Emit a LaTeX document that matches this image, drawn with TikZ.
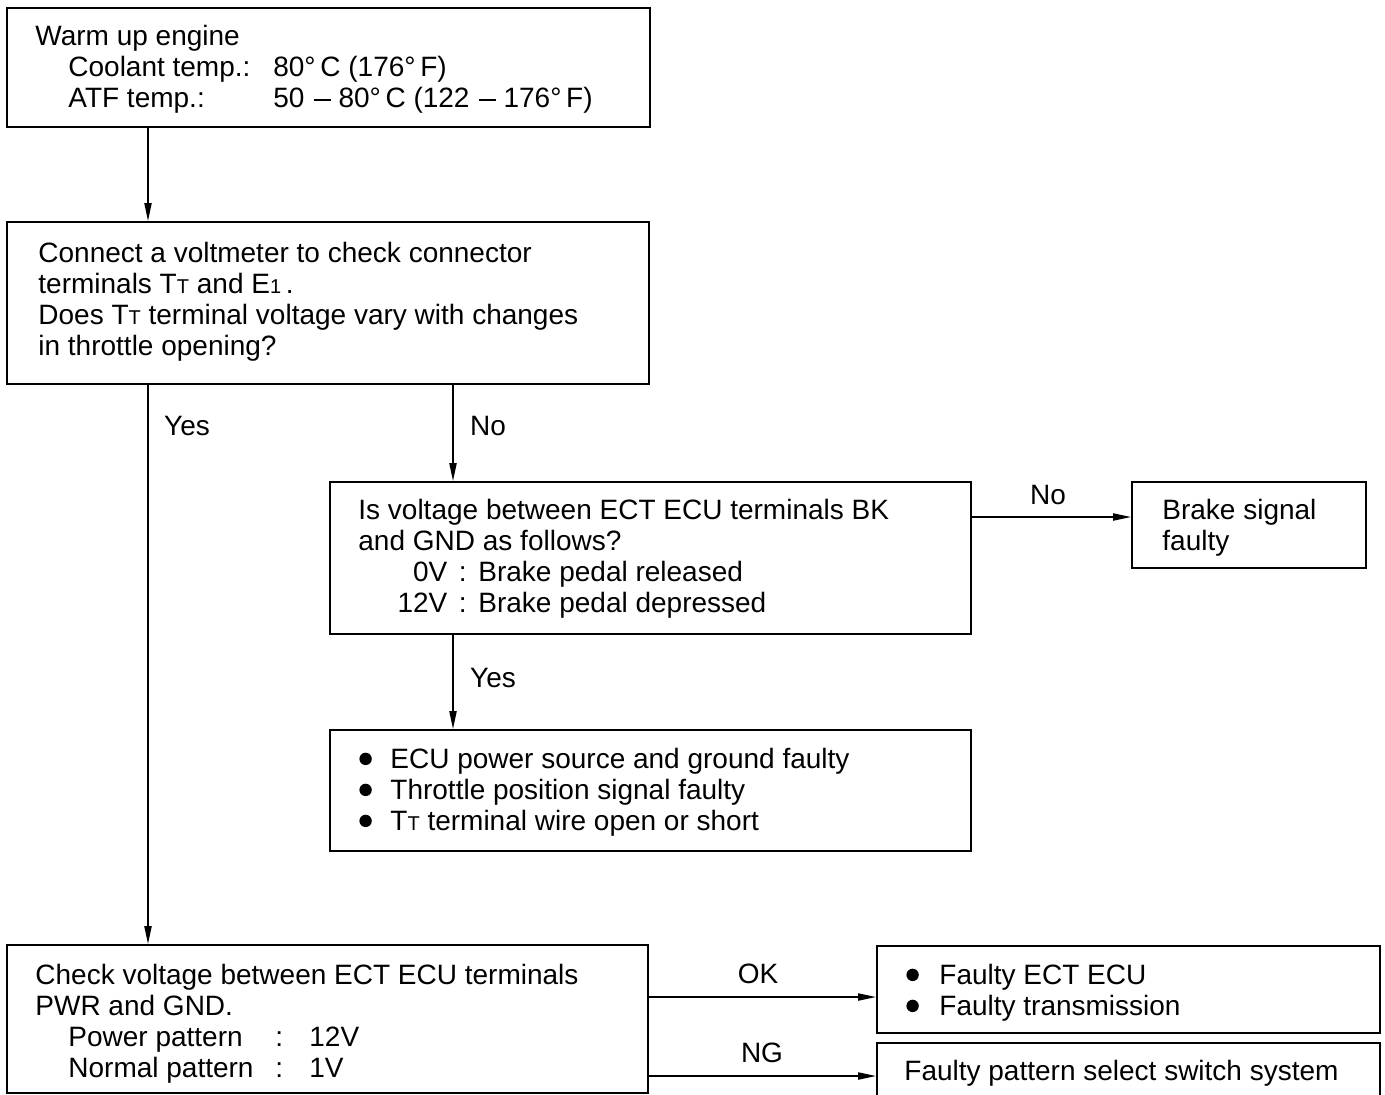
\documentclass[tikz,border=0pt]{standalone}
\usepackage{fontspec}
\setmainfont{Liberation Sans}
\usetikzlibrary{arrows.meta}
\newcommand{\smT}{{\fontsize{10}{10}\selectfont T}}
\newcommand{\smone}{{\fontsize{10}{10}\selectfont 1}}
\newcommand{\bigbul}{\tikz[x=1pt,y=1pt,baseline=-4.9pt]\fill (0,0) circle (3.1pt);}
\newcommand{\dg}{\textdegree\,}
\newcommand{\rng}{\hspace{4.5pt}\raisebox{3.4pt}{\rule{8.5pt}{0.8pt}}\hspace{4pt}}
\begin{document}
\begin{tikzpicture}[x=0.5pt,y=-0.5pt,
  box/.style={draw,line width=0.75pt,anchor=north west,inner sep=0pt},
  txt/.style={anchor=north west,inner sep=0pt,align=left,font=\fontsize{14}{15.5}\selectfont},
  lbl/.style={inner sep=0pt,font=\fontsize{14}{15.5}\selectfont},
  arr/.style={line width=0.75pt,-{Triangle[length=9pt,width=3.6pt]}}]
\useasboundingbox[fill=white] (0,0) rectangle (1385,1094);
% boxes
\node[box,minimum width=321.5pt,minimum height=59.5pt] (b1) at (6,7) {};
\node[box,minimum width=321pt,minimum height=81pt] (b2) at (6,221) {};
\node[box,minimum width=320.5pt,minimum height=76pt] (b3) at (329,481) {};
\node[box,minimum width=117pt,minimum height=43pt] (b4) at (1131,481) {};
\node[box,minimum width=320.5pt,minimum height=60.5pt] (b5) at (329,729) {};
\node[box,minimum width=320.5pt,minimum height=74pt] (b6) at (6,944) {};
\node[box,minimum width=251.5pt,minimum height=43.5pt] (b7) at (876,945) {};
\node[box,minimum width=251.5pt,minimum height=28pt] (b8) at (876,1042) {};
% texts
\node[txt] (t1) at (35,25) {Warm up engine\\
\hspace*{16.5pt}\makebox[102.5pt][l]{Coolant temp.:}80\dg C (176\dg F)\\
\hspace*{16.5pt}\makebox[102.5pt][l]{ATF temp.:}50\rng 80\dg C (122\rng 176\dg F)};
\node[txt] (t2) at (38,242) {Connect a voltmeter to check connector\\
terminals T\smT\ and E\smone\,.\\
Does T\smT\ terminal voltage vary with changes\\
in throttle opening?};
\node[txt] (t3) at (358,499) {Is voltage between ECT ECU terminals BK\\
and GND as follows?\\
\makebox[44.5pt][r]{0V}\makebox[15.5pt][c]{:}Brake pedal released\\
\makebox[44.5pt][r]{12V}\makebox[15.5pt][c]{:}Brake pedal depressed};
\node[txt] (t4) at (1162,499) {Brake signal\\faulty};
\node[txt] (t5) at (359,748) {\makebox[15.5pt][l]{\bigbul}ECU power source and ground faulty\\
\makebox[15.5pt][l]{\bigbul}Throttle position signal faulty\\
\makebox[15.5pt][l]{\bigbul}T\smT\ terminal wire open or short};
\node[txt] (t6) at (35,964) {Check voltage between ECT ECU terminals\\
PWR and GND.\\
\hspace*{16.5pt}\makebox[103.5pt][l]{Power pattern}\makebox[17pt][l]{:}12V\\
\hspace*{16.5pt}\makebox[103.5pt][l]{Normal pattern}\makebox[17pt][l]{:}1V};
\node[txt] (t7) at (906,964) {\makebox[16.5pt][l]{\bigbul}Faulty ECT ECU\\
\makebox[16.5pt][l]{\bigbul}Faulty transmission};
\node[txt] (t8) at (904,1060) {Faulty pattern select switch system};
% labels
\node[lbl] (l1) at (187,426) {Yes};
\node[lbl] (l2) at (488,426) {No};
\node[lbl] (l3) at (1048,495) {No};
\node[lbl] (l4) at (493,678) {Yes};
\node[lbl] (l5) at (758,974) {OK};
\node[lbl] (l6) at (762,1053) {NG};
% guide coordinates
\coordinate (cx1) at (148,0);
\coordinate (cx2) at (453,0);
\coordinate (cy1) at (0,517);
\coordinate (cy2) at (0,997);
\coordinate (cy3) at (0,1076);
% connectors
\draw[arr] (b1.south -| cx1) -- (b2.north -| cx1);
\draw[arr] (b2.south -| cx1) -- (b6.north -| cx1);
\draw[arr] (b2.south -| cx2) -- (b3.north -| cx2);
\draw[arr] (b3.east |- cy1) -- (b4.west |- cy1);
\draw[arr] (b3.south -| cx2) -- (b5.north -| cx2);
\draw[arr] (b6.east |- cy2) -- (b7.west |- cy2);
\draw[arr] (b6.east |- cy3) -- (b8.west |- cy3);
\end{tikzpicture}
\end{document}
